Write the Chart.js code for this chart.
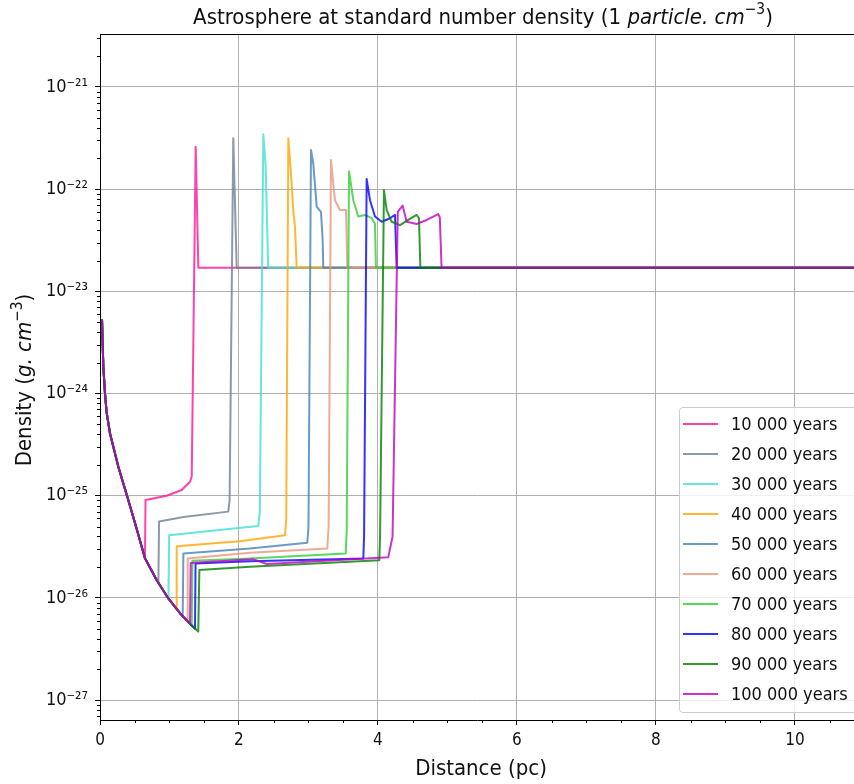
<!DOCTYPE html>
<html>
<head>
<meta charset="utf-8">
<title>Astrosphere density profiles</title>
<script src="https://cdn.jsdelivr.net/npm/chart.js@4.4.1/dist/chart.umd.min.js"></script>
<style>
    body { margin: 0; background: #fff; }
    #wrap { position: relative; width: 854px; height: 784px; overflow: hidden; }
    #legend {
        position: absolute; left: 679px; top: 407px; width: 190px; height: 304px;
        border: 1px solid #cccccc; border-radius: 4px; background: rgba(255, 255, 255, 0.8);
        font-family: 'DejaVu Sans Condensed', 'DejaVu Sans', sans-serif; font-size: 18px; color: #111;
    }
    .row { position: absolute; left: 0; height: 20px; }
    .row .swatch { position: absolute; left: 3px; top: 9px; width: 35px; height: 2px; }
    .row .txt { position: absolute; left: 51px; top: 0; line-height: 20px; white-space: nowrap; }
</style>
</head>
<body>
<div id="wrap">
    <canvas id="chart" width="854" height="784"></canvas>
    <div id="legend"></div>
</div>
<script>
// Astrosphere density profiles - one line per age

const FONT = "'DejaVu Sans Condensed', 'DejaVu Sans', sans-serif";

const ageLabels = ['10 000 years', '20 000 years', '30 000 years', '40 000 years', '50 000 years',
    '60 000 years', '70 000 years', '80 000 years', '90 000 years', '100 000 years'];

const lineColors = ['rgba(255,20,147,0.8)', 'rgba(112,128,144,0.8)', 'rgba(64,224,208,0.8)',
    'rgba(255,165,0,0.8)', 'rgba(70,130,180,0.8)', 'rgba(233,150,122,0.8)', 'rgba(50,205,50,0.8)',
    'rgba(0,0,255,0.8)', 'rgba(0,128,0,0.8)', 'rgba(191,0,191,0.8)'];

// free-flowing wind, common to every age (pc, g/cm3)
const innerDist = [0.029, 0.048, 0.072, 0.096, 0.144, 0.264, 0.393, 0.518, 0.647, 0.815, 0.983, 1.151, 1.295, 1.414];
const innerDens = [5.3e-24, 1.83e-24, 1.0e-24, 6.5e-25, 4.07e-25, 1.92e-25, 9.8e-26, 5.0e-26, 2.45e-26, 1.5e-26, 9.9e-27, 7.1e-27, 5.6e-27, 4.7e-27];

// shocked wind, shell and ISM for each age
const dist10k = [0.655, 0.96, 1.175, 1.295, 1.32, 1.377, 1.415, 10.9];
const dens10k = [9.1e-26, 1.0e-25, 1.14e-25, 1.37e-25, 1.55e-25, 2.6e-22, 1.7e-23, 1.7e-23];
const dist20k = [0.84, 0.85, 1.2, 1.846, 1.865, 1.918, 1.967, 10.9];
const dens20k = [1.4e-26, 5.6e-26, 6.2e-26, 7.0e-26, 9.0e-26, 3.15e-22, 1.7e-23, 1.7e-23];
const dist30k = [0.985, 0.995, 1.68, 2.278, 2.30, 2.35, 2.384, 2.42, 10.9];
const dens30k = [9.8e-27, 4.1e-26, 4.6e-26, 5.05e-26, 7.0e-26, 3.44e-22, 1.66e-22, 1.7e-23, 1.7e-23];
const dist40k = [1.094, 1.104, 2.014, 2.662, 2.68, 2.71, 2.758, 2.78, 2.806, 2.83, 10.9];
const dens40k = [7.8e-27, 3.2e-26, 3.6e-26, 4.1e-26, 6.0e-26, 3.15e-22, 1.14e-22, 6.25e-23, 4.3e-23, 1.7e-23, 1.7e-23];
const dist50k = [1.19, 1.20, 2.158, 2.983, 3.0, 3.036, 3.069, 3.118, 3.18, 3.204, 3.213, 10.9];
const dens50k = [6.6e-27, 2.73e-26, 3.05e-26, 3.47e-26, 5.0e-26, 2.42e-22, 1.79e-22, 6.76e-23, 6.0e-23, 3.2e-23, 1.7e-23, 1.7e-23];
const dist60k = [1.255, 1.262, 2.158, 3.27, 3.29, 3.324, 3.381, 3.453, 3.54, 3.558, 10.9];
const dens60k = [6.0e-27, 2.44e-26, 2.77e-26, 3.05e-26, 5.0e-26, 1.93e-22, 7.8e-23, 6.25e-23, 6.25e-23, 1.7e-23, 1.7e-23];
const dist70k = [1.32, 1.33, 2.158, 3.535, 3.55, 3.583, 3.645, 3.716, 3.813, 3.91, 3.957, 3.971, 10.9];
const dens70k = [5.3e-27, 2.31e-26, 2.44e-26, 2.73e-26, 4.5e-26, 1.5e-22, 7.8e-23, 5.4e-23, 5.6e-23, 5.2e-23, 4.6e-23, 1.7e-23, 1.7e-23];
const dist80k = [1.367, 1.375, 2.158, 3.789, 3.80, 3.837, 3.885, 3.957, 4.053, 4.173, 4.245, 4.269, 10.9];
const dens80k = [5.0e-27, 2.18e-26, 2.29e-26, 2.44e-26, 4.0e-26, 1.26e-22, 7.8e-23, 5.4e-23, 4.8e-23, 5.2e-23, 5.6e-23, 1.7e-23, 1.7e-23];
const dist90k = [1.43, 2.158, 4.019, 4.03, 4.086, 4.125, 4.197, 4.317, 4.436, 4.556, 4.59, 4.61, 10.9];
const dens90k = [1.88e-26, 2.02e-26, 2.34e-26, 4.0e-26, 9.8e-23, 6.25e-23, 4.8e-23, 4.45e-23, 5.0e-23, 5.6e-23, 5.2e-23, 1.7e-23, 1.7e-23];
const dist100k = [1.305, 2.2, 2.4, 4.148, 4.21, 4.285, 4.355, 4.413, 4.556, 4.70, 4.868, 4.89, 4.915, 10.9];
const dens100k = [2.2e-26, 2.4e-26, 2.15e-26, 2.5e-26, 4.0e-26, 6.0e-23, 6.9e-23, 4.8e-23, 4.57e-23, 5.0e-23, 5.7e-23, 5.3e-23, 1.7e-23, 1.7e-23];

const seriesDist = [dist10k, dist20k, dist30k, dist40k, dist50k, dist60k, dist70k, dist80k, dist90k, dist100k];
const seriesDens = [dens10k, dens20k, dens30k, dens40k, dens50k, dens60k, dens70k, dens80k, dens90k, dens100k];

// axis ticks
const xTickValues = [0, 2, 4, 6, 8, 10];
const xTickLabels = ['0', '2', '4', '6', '8', '10'];
const yTickValues = [1e-27, 1e-26, 1e-25, 1e-24, 1e-23, 1e-22, 1e-21];
const yTickLabels = ['10⁻²⁷', '10⁻²⁶', '10⁻²⁵', '10⁻²⁴', '10⁻²³', '10⁻²²', '10⁻²¹'];

// texts with italic / superscript parts (matplotlib mathtext)
const titleParts = [
    { t: 'Astrosphere at standard number density (1 ' },
    { t: 'particle. cm', it: true },
    { t: '−3', sup: true },
    { t: ')' }
];
const yLabelParts = [
    { t: 'Density (' },
    { t: 'g. cm', it: true },
    { t: '−3', sup: true },
    { t: ')' }
];
const xLabelParts = [{ t: 'Distance (pc)' }];

// inner wind points up to where each series jumps
function buildSeries(i) {
    const pts = [];
    const start = seriesDist[i][0];
    innerDist.forEach((d, j) => {
        if (d < start) pts.push({ x: d, y: innerDens[j] });
    });
    seriesDist[i].forEach((d, j) => pts.push({ x: d, y: seriesDens[i][j] }));
    return pts;
}

const datasets = ageLabels.map((label, i) => ({
    label: label,
    data: buildSeries(i),
    borderColor: lineColors[i],
    backgroundColor: lineColors[i],
    borderWidth: 2,
    pointRadius: 0,
    tension: 0,
    fill: false,
    borderJoinStyle: 'round',
    order: ageLabels.length - 1 - i   // later ages on top, like matplotlib
}));

// draw a line of text made of plain / italic / superscript parts, centred on cx
function drawRich(ctx, parts, size, cx, baseline) {
    const fontOf = (p) => (p.it ? 'italic ' : '') + (p.sup ? size * 0.7 : size) + 'px ' + FONT;
    let total = 0;
    parts.forEach(p => { ctx.font = fontOf(p); p.w = ctx.measureText(p.t).width; total += p.w; });
    let x = cx - total / 2;
    ctx.textAlign = 'left';
    ctx.textBaseline = 'alphabetic';
    parts.forEach(p => {
        ctx.font = fontOf(p);
        ctx.fillText(p.t, x, p.sup ? baseline - size * 0.42 : baseline);
        x += p.w;
    });
}

// titles, minor ticks and top spine
const decorations = {
    id: 'decorations',
    afterDraw(chart) {
        const { ctx, chartArea, scales } = chart;
        ctx.save();
        ctx.fillStyle = '#111';
        drawRich(ctx, titleParts, 22, 483, 23.5);
        drawRich(ctx, xLabelParts, 22, 481, 775);
        ctx.save();
        ctx.translate(31, 380);
        ctx.rotate(-Math.PI / 2);
        drawRich(ctx, yLabelParts, 22, 0, 0);
        ctx.restore();

        ctx.strokeStyle = '#000';
        ctx.lineWidth = 1;
        ctx.beginPath();
        ctx.moveTo(chartArea.left, chartArea.top + 0.5);
        ctx.lineTo(chartArea.right, chartArea.top + 0.5);
        for (let e = -28; e <= -21; e++) {
            for (let m = 2; m <= 9; m++) {
                const v = m * Math.pow(10, e);
                if (v < scales.y.min || v > scales.y.max) continue;
                const py = Math.round(scales.y.getPixelForValue(v)) + 0.5;
                ctx.moveTo(chartArea.left - 3, py);
                ctx.lineTo(chartArea.left, py);
            }
        }
        for (let v = 0.5; v < scales.x.max; v += 0.5) {
            if (v % 2 === 0) continue;
            const px = Math.round(scales.x.getPixelForValue(v)) + 0.5;
            ctx.moveTo(px, chartArea.bottom);
            ctx.lineTo(px, chartArea.bottom + 3);
        }
        ctx.stroke();
        ctx.restore();
    }
};

const chart = new Chart(document.getElementById('chart'), {
    type: 'line',
    data: { datasets: datasets },
    options: {
        responsive: false,
        animation: false,
        devicePixelRatio: 1,
        layout: { padding: { left: 0, right: 0, top: 34, bottom: 0 } },
        plugins: {
            legend: { display: false },
            tooltip: { enabled: false },
            title: { display: false }
        },
        scales: {
            x: {
                type: 'linear',
                min: 0,
                max: 10.85,
                afterBuildTicks: (s) => { s.ticks = xTickValues.map(v => ({ value: v })); },
                afterFit: (s) => { s.height = 64; },
                ticks: {
                    callback: (v, i) => xTickLabels[i],
                    color: '#111',
                    font: { family: FONT, size: 17 },
                    padding: 5,
                    maxRotation: 0
                },
                grid: { color: '#b0b0b0', lineWidth: 1, tickLength: 5, tickColor: '#000' },
                border: { color: '#000', width: 1 }
            },
            y: {
                type: 'logarithmic',
                min: 6.4e-28,
                max: 3.3e-21,
                afterBuildTicks: (s) => { s.ticks = yTickValues.map(v => ({ value: v, major: true })); },
                afterFit: (s) => { s.width = 100; },
                ticks: {
                    callback: (v, i) => yTickLabels[i],
                    color: '#111',
                    font: { family: FONT, size: 18 },
                    padding: 7
                },
                grid: { color: '#b0b0b0', lineWidth: 1, tickLength: 5, tickColor: '#000' },
                border: { color: '#000', width: 1 }
            }
        }
    },
    plugins: [decorations]
});

// legend box, drawn like the matplotlib one
const legendBox = document.getElementById('legend');
ageLabels.forEach((label, i) => {
    const row = document.createElement('div');
    row.className = 'row';
    row.style.top = (6 + i * 30) + 'px';
    row.innerHTML = '<span class="swatch" style="background:' + lineColors[i] + '"></span>' +
        '<span class="txt">' + label + '</span>';
    legendBox.appendChild(row);
});
</script>
</body>
</html>
